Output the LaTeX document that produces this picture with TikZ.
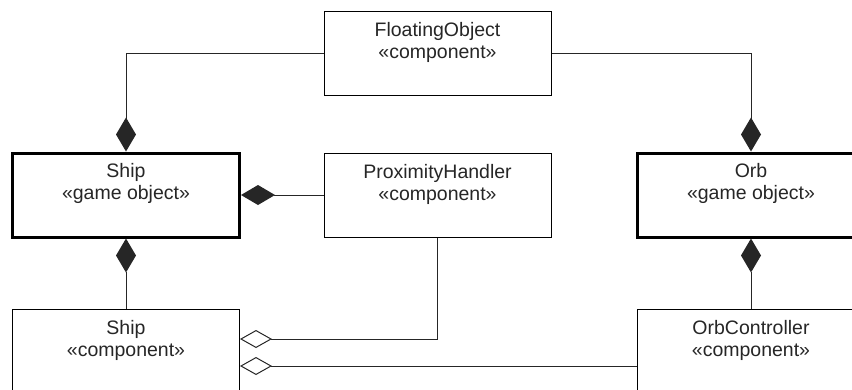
\documentclass[tikz,border=0pt]{standalone}
\usepackage{fontspec}
\setmainfont{Liberation Sans}
\usetikzlibrary{arrows.meta}
\begin{document}
\begin{tikzpicture}[x=1pt,y=-1pt,
  umlbox/.style={draw=black,line width=1pt,minimum width=227pt,minimum height=84pt,inner sep=0pt,fill=white},
  gobox/.style={umlbox,line width=3pt},
  lbl/.style={anchor=north,align=center,inner sep=0pt,font=\fontsize{19.5}{22}\selectfont,text=black!85},
  conn/.style={draw=black!85,line width=1pt},
  comp/.style={conn,-{Diamond[length=34pt,width=20pt,line width=0pt]}},
  aggr/.style={conn,-{Diamond[open,length=32pt,width=18pt,line width=1pt]}}]
\useasboundingbox (0,0) rectangle (852,389);
\clip (0,0) rectangle (852,389);
\node[umlbox] (fo) at (437.5,53) {};
\node[gobox] (shipgo) at (126,195) {};
\node[umlbox] (ph) at (437.5,195) {};
\node[gobox] (orbgo) at (751,195) {};
\node[umlbox] (shipc) at (126,351) {};
\node[umlbox] (orbc) at (751,351) {};
\node[lbl] (tfo) at ([yshift=-12pt]fo.north) {FloatingObject\\«component»};
\node[lbl] (tshipgo) at ([yshift=-12pt]shipgo.north) {Ship\\«game object»};
\node[lbl] (tph) at ([yshift=-12pt]ph.north) {ProximityHandler\\«component»};
\node[lbl] (torbgo) at ([yshift=-12pt]orbgo.north) {Orb\\«game object»};
\node[lbl] (tshipc) at ([yshift=-12pt]shipc.north) {Ship\\«component»};
\node[lbl] (torbc) at ([yshift=-12pt]orbc.north) {OrbController\\«component»};
\draw[comp] (fo.west) -| (shipgo.north);
\draw[comp] (fo.east) -| (orbgo.north);
\draw[comp] (ph.west) -- (shipgo.east);
\draw[comp] (shipc.north) -- (shipgo.south);
\draw[comp] (orbc.north) -- (orbgo.south);
\draw[aggr] (ph.south) |- ([yshift=12pt]shipc.east);
\draw[aggr] ([yshift=-15pt]orbc.west) -- ([yshift=-15pt]shipc.east);
\end{tikzpicture}
\end{document}
